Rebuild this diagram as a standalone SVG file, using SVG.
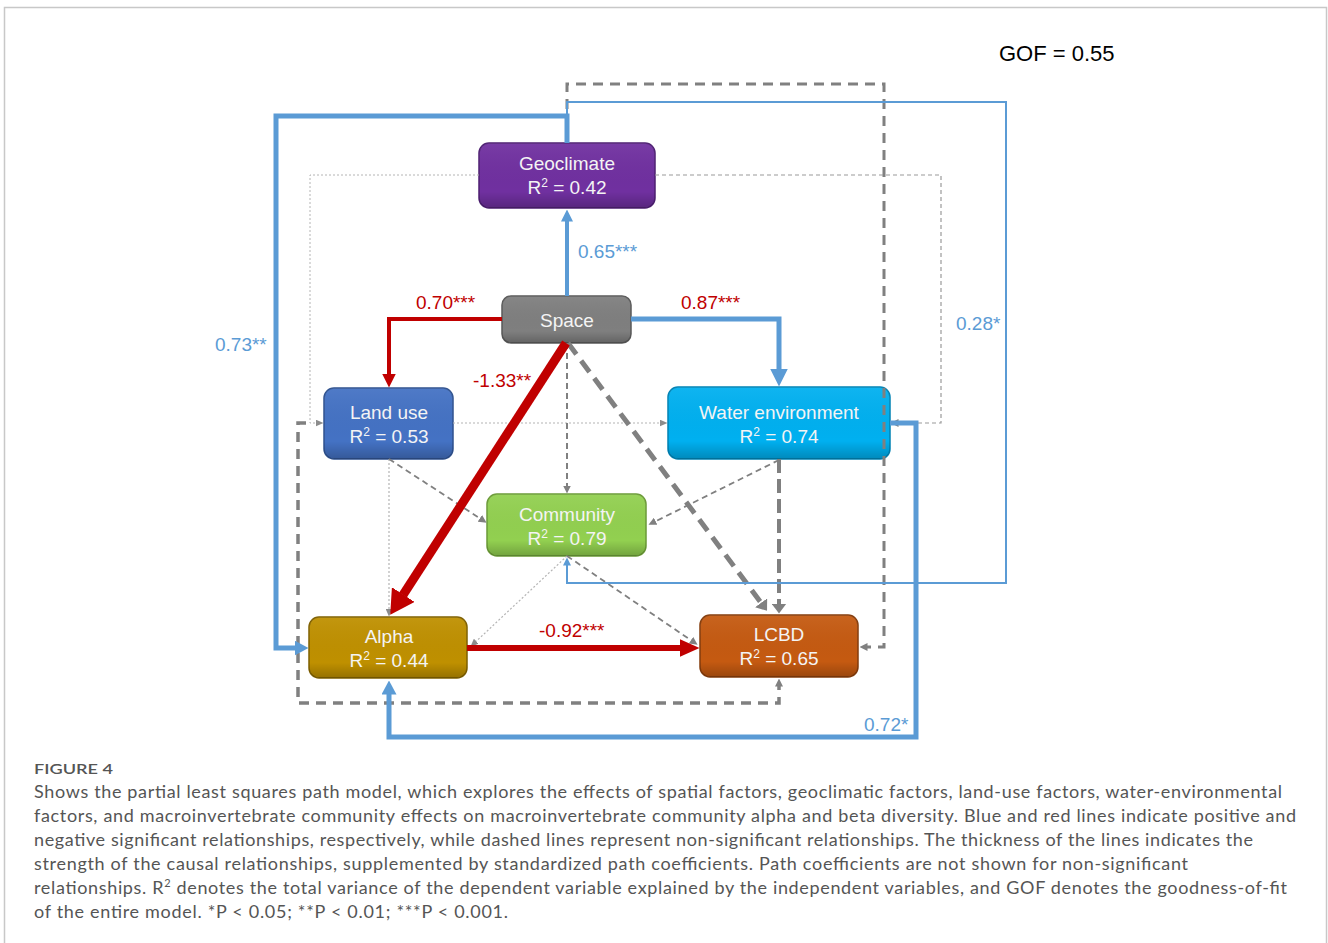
<svg xmlns="http://www.w3.org/2000/svg" width="1328" height="943" viewBox="0 0 1328 943">
<style>
.node text{font-family:"Liberation Sans",Arial,sans-serif;font-size:19px;fill:#f4f4f4;text-anchor:middle}
.node .sh{fill:url(#shade);stroke:none}
.lbl{font-family:"Liberation Sans",Arial,sans-serif;font-size:19px}
.blue{fill:#5b9bd5}
.red{fill:#c00000}
.cap{font-family:Lato,"Open Sans",sans-serif;font-size:18px;fill:#555555}
.c{fill:none}
.sb{stroke:#5b9bd5}
.sr{stroke:#c00000}
.sg{stroke:#808080}
.sl{stroke:#b4b4b4}
</style>
<defs>
<linearGradient id="shade" x1="0" y1="0" x2="0" y2="1">
<stop offset="0" stop-color="#ffffff" stop-opacity="0.06"/>
<stop offset="0.75" stop-color="#000000" stop-opacity="0"/>
<stop offset="1" stop-color="#000000" stop-opacity="0.22"/>
</linearGradient>
<marker id="aB12" viewBox="0 0 12 12" refX="0.5" refY="6" markerWidth="12" markerHeight="12" markerUnits="userSpaceOnUse" orient="auto"><path d="M0,0L12,6L0,12z" fill="#5b9bd5"/></marker>
<marker id="aB15" viewBox="0 0 14 15" refX="0.5" refY="7.5" markerWidth="14" markerHeight="15" markerUnits="userSpaceOnUse" orient="auto"><path d="M0,0L14,7.5L0,15z" fill="#5b9bd5"/></marker>
<marker id="aB18" viewBox="0 0 18 18" refX="0.5" refY="9" markerWidth="18" markerHeight="18" markerUnits="userSpaceOnUse" orient="auto"><path d="M0,0L18,9L0,18z" fill="#5b9bd5"/></marker>
<marker id="aBs" viewBox="0 0 8 8" refX="0.5" refY="4" markerWidth="8" markerHeight="8" markerUnits="userSpaceOnUse" orient="auto"><path d="M0,0L8,4L0,8z" fill="#5b9bd5"/></marker>
<marker id="aR14" viewBox="0 0 14 14" refX="0.5" refY="7" markerWidth="14" markerHeight="14" markerUnits="userSpaceOnUse" orient="auto"><path d="M0,0L14,7L0,14z" fill="#c00000"/></marker>
<marker id="aR24" viewBox="0 0 24 27" refX="0.5" refY="13.5" markerWidth="24" markerHeight="27" markerUnits="userSpaceOnUse" orient="auto"><path d="M0,0L24,13.5L0,27z" fill="#c00000"/></marker>
<marker id="aR20" viewBox="0 0 20 18" refX="0.5" refY="9" markerWidth="20" markerHeight="18" markerUnits="userSpaceOnUse" orient="auto"><path d="M0,0L20,9L0,18z" fill="#c00000"/></marker>
<marker id="aG" viewBox="0 0 8 8" refX="0.5" refY="4" markerWidth="8" markerHeight="8" markerUnits="userSpaceOnUse" orient="auto"><path d="M0,0L8,4L0,8z" fill="#808080"/></marker>
<marker id="aGL" viewBox="0 0 10 15" refX="0.5" refY="7.5" markerWidth="10" markerHeight="15" markerUnits="userSpaceOnUse" orient="auto"><path d="M0,0L10,7.5L0,15z" fill="#808080"/></marker>
<marker id="aL" viewBox="0 0 8 7" refX="0.5" refY="3.5" markerWidth="8" markerHeight="7" markerUnits="userSpaceOnUse" orient="auto"><path d="M0,0L8,3.5L0,7z" fill="#8c8c8c"/></marker>
</defs>
<rect x="0" y="0" width="1328" height="943" fill="#ffffff"/>
<rect x="4.5" y="7.5" width="1322" height="960" fill="none" stroke="#c8c8c8" stroke-width="1.5"/>

<g id="nodes">
<g id="geoclimate" class="node"><rect x="479" y="143" width="176" height="65" rx="10" fill="#7030a0" stroke="#4d1f72" stroke-width="1.5"/><rect class="sh" x="479" y="143" width="176" height="65" rx="10"/><text x="567" y="170">Geoclimate</text><text x="567" y="194">R<tspan font-size="12" dy="-7">2</tspan><tspan dy="7"> = 0.42</tspan></text></g>
<g id="space" class="node"><rect x="502" y="296" width="129" height="47" rx="9" fill="#7f7f7f" stroke="#5a5a5a" stroke-width="1.5"/><rect class="sh" x="502" y="296" width="129" height="47" rx="9"/><text x="567" y="327">Space</text></g>
<g id="landuse" class="node"><rect x="324" y="388" width="129" height="71" rx="10" fill="#4472c4" stroke="#2f528f" stroke-width="1.5"/><rect class="sh" x="324" y="388" width="129" height="71" rx="10"/><text x="389" y="419">Land use</text><text x="389" y="443">R<tspan font-size="12" dy="-7">2</tspan><tspan dy="7"> = 0.53</tspan></text></g>
<g id="water" class="node"><rect x="668" y="387" width="222" height="72" rx="10" fill="#00b0f0" stroke="#0082b4" stroke-width="1.5"/><rect class="sh" x="668" y="387" width="222" height="72" rx="10"/><text x="779" y="419">Water environment</text><text x="779" y="443">R<tspan font-size="12" dy="-7">2</tspan><tspan dy="7"> = 0.74</tspan></text></g>
<g id="community" class="node"><rect x="487" y="494" width="159" height="62" rx="10" fill="#92d050" stroke="#6b9a37" stroke-width="1.5"/><rect class="sh" x="487" y="494" width="159" height="62" rx="10"/><text x="567" y="521">Community</text><text x="567" y="545">R<tspan font-size="12" dy="-7">2</tspan><tspan dy="7"> = 0.79</tspan></text></g>
<g id="alpha" class="node"><rect x="309" y="617" width="158" height="61" rx="10" fill="#bf9000" stroke="#7f6000" stroke-width="1.5"/><rect class="sh" x="309" y="617" width="158" height="61" rx="10"/><text x="389" y="643">Alpha</text><text x="389" y="667">R<tspan font-size="12" dy="-7">2</tspan><tspan dy="7"> = 0.44</tspan></text></g>
<g id="lcbd" class="node"><rect x="700" y="615" width="158" height="62" rx="10" fill="#c55a11" stroke="#843c0c" stroke-width="1.5"/><rect class="sh" x="700" y="615" width="158" height="62" rx="10"/><text x="779" y="641">LCBD</text><text x="779" y="665">R<tspan font-size="12" dy="-7">2</tspan><tspan dy="7"> = 0.65</tspan></text></g>
</g>

<g id="connectors">
<path class="c sg" d="M567,143V84H884V647H867" stroke-width="3" stroke-dasharray="10 7" marker-end="url(#aG)"/>
<path class="c sl" d="M479,175H310V423H316" stroke-width="1" stroke-dasharray="2 2" marker-end="url(#aL)"/>
<path class="c" d="M655,175H941V423H898" stroke="#9a9a9a" stroke-width="1.2" stroke-dasharray="4 3" marker-end="url(#aG)"/>
<path class="c sl" d="M453,423H660" stroke-width="1.2" stroke-dasharray="2 2" marker-end="url(#aL)"/>
<path class="c sg" d="M306,423H298V703H779V686" stroke-width="3.5" stroke-dasharray="10 7" marker-end="url(#aG)"/>
<path class="c sl" d="M389,459V609" stroke-width="1.2" stroke-dasharray="2 2" marker-end="url(#aL)"/>
<path class="c sg" d="M389,459L480.3,518.6" stroke-width="1.8" stroke-dasharray="6 4" marker-end="url(#aG)"/>
<path class="c sg" d="M779,460L655.2,521.5" stroke-width="1.8" stroke-dasharray="6 4" marker-end="url(#aG)"/>
<path class="c sg" d="M567,343V486" stroke-width="2" stroke-dasharray="6 4" marker-end="url(#aG)"/>
<path class="c sg" d="M779,459V604" stroke-width="4" stroke-dasharray="14 6" marker-end="url(#aGL)"/>
<path class="c sg" d="M568,343L761.4,603.2" stroke-width="5" stroke-dasharray="14 8" marker-end="url(#aGL)"/>
<path class="c sl" d="M567,556L475.9,641.6" stroke-width="1.2" stroke-dasharray="2 2" marker-end="url(#aL)"/>
<path class="c sg" d="M567,556L691.4,640.5" stroke-width="1.8" stroke-dasharray="6 4" marker-end="url(#aG)"/>
<path class="c sb" d="M567,143V102H1006V583H567V565" stroke-width="2" marker-end="url(#aBs)"/>
<path class="c sb" d="M567,143V116H276V648H295" stroke-width="5" marker-end="url(#aB15)"/>
<path class="c sb" d="M567,296V221" stroke-width="4" marker-end="url(#aB12)"/>
<path class="c sb" d="M631,319H779V369" stroke-width="5" marker-end="url(#aB18)"/>
<path class="c sb" d="M890,423H916V737H389V694" stroke-width="5" marker-end="url(#aB15)"/>
<path class="c sr" d="M502,319H389V374" stroke-width="4" marker-end="url(#aR14)"/>
<path class="c sr" d="M566,343L403,595" stroke-width="9" marker-end="url(#aR24)"/>
<path class="c sr" d="M467,648H680" stroke-width="6" marker-end="url(#aR20)"/>
</g>

<g id="labels">
<text class="lbl blue" x="578" y="258">0.65***</text>
<text class="lbl red" x="416" y="309">0.70***</text>
<text class="lbl red" x="681" y="309">0.87***</text>
<text class="lbl red" x="473" y="387">-1.33**</text>
<text class="lbl blue" x="215" y="351">0.73**</text>
<text class="lbl blue" x="956" y="330">0.28*</text>
<text class="lbl red" x="539" y="637">-0.92***</text>
<text class="lbl blue" x="864" y="731">0.72*</text>
<text x="999" y="61" font-family="Liberation Sans, Arial, sans-serif" font-size="22" fill="#000000">GOF = 0.55</text>
</g>

<g id="caption">
<text x="34" y="774" font-family="Lato, 'Open Sans', sans-serif" font-size="14" font-weight="600" fill="#555555" textLength="79" lengthAdjust="spacingAndGlyphs">FIGURE 4</text>
<text class="cap" x="34" y="798" textLength="1248" lengthAdjust="spacing">Shows the partial least squares path model, which explores the effects of spatial factors, geoclimatic factors, land-use factors, water-environmental</text>
<text class="cap" x="34" y="822" textLength="1262" lengthAdjust="spacing">factors, and macroinvertebrate community effects on macroinvertebrate community alpha and beta diversity. Blue and red lines indicate positive and</text>
<text class="cap" x="34" y="846" textLength="1219" lengthAdjust="spacing">negative significant relationships, respectively, while dashed lines represent non-significant relationships. The thickness of the lines indicates the</text>
<text class="cap" x="34" y="870" textLength="1154" lengthAdjust="spacing">strength of the causal relationships, supplemented by standardized path coefficients. Path coefficients are not shown for non-significant</text>
<text class="cap" x="34" y="894" textLength="1253" lengthAdjust="spacing">relationships. R<tspan font-size="11" dy="-7">2</tspan><tspan dy="7"> denotes the total variance of the dependent variable explained by the independent variables, and GOF denotes the goodness-of-fit</tspan></text>
<text class="cap" x="34" y="918" textLength="474" lengthAdjust="spacing">of the entire model. *P &lt; 0.05; **P &lt; 0.01; ***P &lt; 0.001.</text>
</g>
</svg>
